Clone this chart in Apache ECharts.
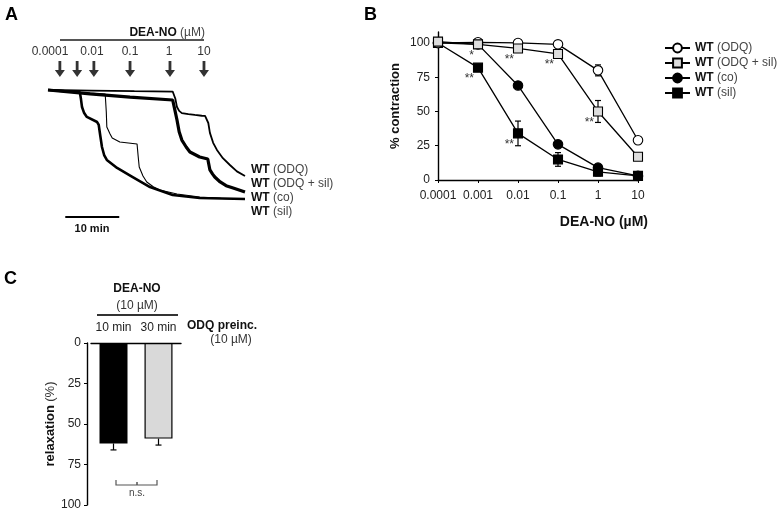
<!DOCTYPE html>
<html><head><meta charset="utf-8">
<script src="https://cdn.jsdelivr.net/npm/echarts@6/dist/echarts.min.js"></script>
<style>html,body{margin:0;padding:0;background:#fff}#c{width:777px;height:514px}</style>
</head><body><div id="c"></div>
<script>
// ---------- Panel A: isometric tension traces [time (min), tension (% of initial)] ----------
const traceODQ = [[0,100],[8,99.5],[16,99],[23.1,98.6],[23.6,92],[23.9,84.5],[24.3,81],[24.8,79],[26,78],[27.2,77.3],[28.5,76.6],[29.1,76.4],[29.4,78],[29.7,70],[30.0,61],[30.6,52],[31.3,45.5],[32.4,38],[33.7,31.8],[35,26],[36.5,21.8]];
const traceODQsil = [[0,100],[7.8,96.4],[15.2,93.6],[23.1,90.9],[23.5,82],[23.9,72.7],[24.3,62],[24.8,54.5],[25.6,48.2],[26.3,43.6],[28.1,39.1],[29.6,37.3],[30.0,27.3],[30.5,23.5],[30.9,20.9],[31.9,16.4],[33,13],[34.3,10.9],[36.5,7.3]];
const traceCo = [[0,100],[5,98],[10.6,96.4],[10.8,80],[10.9,66.4],[11.5,60],[11.9,56.4],[13.3,52.7],[16.5,50.9],[16.7,40],[16.9,30],[17.6,21.8],[18.3,16.4],[19.5,12],[20.7,9.1],[23.9,5.5],[28.1,2.7],[32,1.5],[36.5,0.9]];
const traceSil = [[0,100],[5.9,98],[6.1,92],[6.3,84.5],[6.7,79],[7.2,75.5],[9.1,70.9],[9.4,68.2],[9.7,58],[10,48.2],[10.4,40.9],[10.9,36.4],[12.8,29.1],[15.7,20.9],[18.9,11.8],[23.1,4.5],[28.1,1.8],[36.5,0.9]];
const arrowTimes = [2.2, 5.4, 8.5, 15.2, 22.6, 28.9];
const concLabelsA = ['0.0001', '0.01', '0.1', '1', '10'];
const traceNames = ['WT (ODQ)', 'WT (ODQ + sil)', 'WT (co)', 'WT (sil)'];
const scaleBarMin = [3.2, 13.2];

// ---------- Panel B: concentration–response ----------
const concB = [0.0001, 0.001, 0.01, 0.1, 1, 10];
const tickLabelsB = ['0.0001', '0.001', '0.01', '0.1', '1', '10'];
const valODQ = [100, 100.5, 100, 99, 80, 29];
const valODQsil = [101, 99, 96, 92, 50, 17];
const valCo = [100, 99, 69, 26, 9, 3];
const valSil = [100, 82, 34, 15, 6, 3];
const errODQ = [0, 0, 0, 0, 4, 2];
const errODQsil = [0, 0, 0, 0, 8, 2];
const errCo = [0, 0, 0, 2, 2, 0];
const errSil = [0, 2, 9, 5, 3, 0];
const starsB = [[0.001, 99, '*'], [0.001, 82, '**'], [0.01, 96, '**'], [0.01, 34, '**'], [0.1, 92, '**'], [1, 50, '**']];

// ---------- Panel C: relaxation ----------
const barCats = ['10 min', '30 min'];
const barMean = [62, 59];
const barSEM = [4, 4];

const FONT = '"Liberation Sans", Arial, Helvetica, sans-serif';
const chart = echarts.init(document.getElementById('c'), null, {renderer: 'canvas'});

function errRender(params, api) {
  const x = api.value(0), lo = api.value(1), hi = api.value(2);
  const a = api.coord([x, hi]), b = api.coord([x, lo]);
  const w = 3;
  const st = {stroke: '#000', lineWidth: 1.2};
  return {type: 'group', children: [
    {type: 'line', shape: {x1: a[0], y1: a[1], x2: b[0], y2: b[1]}, style: st},
    {type: 'line', shape: {x1: a[0] - w, y1: a[1], x2: a[0] + w, y2: a[1]}, style: st},
    {type: 'line', shape: {x1: b[0] - w, y1: b[1], x2: b[0] + w, y2: b[1]}, style: st}
  ]};
}
function errData(vals, errs) {
  const out = [];
  vals.forEach((v, i) => { if (errs[i] > 0) out.push([concB[i], v - errs[i], v + errs[i]]); });
  return out;
}
function starRender(params, api) {
  const p = api.coord([api.value(0), api.value(1)]);
  return {type: 'text', x: p[0] - 4, y: p[1] + 11,
    style: {text: starsB[params.dataIndex][2], align: 'right', verticalAlign: 'middle', font: '12px ' + FONT, fill: '#333'}};
}
function barErrRender(params, api) {
  const x = api.value(0), v = api.value(1), e = api.value(2);
  const a = api.coord([x, v]), b = api.coord([x, v + e]);
  const st = {stroke: '#000', lineWidth: 1.2};
  return {type: 'group', children: [
    {type: 'line', shape: {x1: a[0], y1: a[1], x2: b[0], y2: b[1]}, style: st},
    {type: 'line', shape: {x1: b[0] - 3, y1: b[1], x2: b[0] + 3, y2: b[1]}, style: st}
  ]};
}

const axisBlack = {lineStyle: {color: '#000', width: 1.4}};
const lineB = (name, vals, symbol, fill, z) => ({
  name: name, type: 'line', xAxisIndex: 1, yAxisIndex: 1,
  data: vals.map((v, i) => [concB[i], v]),
  symbol: symbol, symbolSize: symbol === 'rect' ? 9 : 9.5,
  lineStyle: {color: '#000', width: 1.3},
  itemStyle: {color: fill, borderColor: '#000', borderWidth: 1.1},
  z: z, animation: false
});

const traceSeries = (data, w) => ({
  type: 'line', xAxisIndex: 0, yAxisIndex: 0, data: data, showSymbol: false, symbol: 'none',
  lineStyle: {color: '#000', width: w}, animation: false, silent: true
});

const option = {
  animation: false,
  textStyle: {fontFamily: FONT},
  grid: [
    {left: 48, top: 57, width: 197, height: 170.5},
    {left: 438, top: 32, width: 200, height: 148},
    {left: 91, top: 343, width: 90, height: 162}
  ],
  xAxis: [
    {gridIndex: 0, type: 'value', min: 0, max: 36.5, show: false},
    {gridIndex: 1, type: 'log', logBase: 10, min: 0.0001, max: 10,
      axisLine: axisBlack, axisTick: {show: true, length: 3, lineStyle: {color: '#000'}},
      splitLine: {show: false},
      axisLabel: {fontSize: 12, color: '#222', margin: 10, formatter: v => tickLabelsB[Math.round(Math.log10(v)) + 4]}},
    {gridIndex: 2, type: 'category', data: barCats, position: 'top',
      axisLine: axisBlack, axisTick: {show: false},
      axisLabel: {fontSize: 12, color: '#222', margin: 9, interval: 0, hideOverlap: false}}
  ],
  yAxis: [
    {gridIndex: 0, type: 'value', min: -25, max: 130, show: false},
    {gridIndex: 1, type: 'value', min: 0, max: 108, interval: 25,
      axisLine: {show: true, lineStyle: {color: '#000', width: 1.4}},
      axisTick: {show: true, length: 3, lineStyle: {color: '#000'}, customValues: [0, 25, 50, 75, 100]},
      splitLine: {show: false},
      axisLabel: {fontSize: 12, color: '#222', margin: 8, customValues: [0, 25, 50, 75, 100]},
      name: '% contraction', nameLocation: 'middle', nameGap: 36, nameRotate: 90,
      nameTextStyle: {fontSize: 13, fontWeight: 'bold', color: '#111'}},
    {gridIndex: 2, type: 'value', min: 0, max: 100, interval: 25, inverse: true, offset: 4,
      axisLine: {show: true, lineStyle: {color: '#000', width: 1.4}},
      axisTick: {show: true, length: 3, lineStyle: {color: '#000'}},
      splitLine: {show: false},
      axisLabel: {fontSize: 12, color: '#222', margin: 6},
      name: '{b|relaxation} {n|(%)}', nameLocation: 'middle', nameGap: 30, nameRotate: 90,
      nameTextStyle: {rich: {b: {fontSize: 13, fontWeight: 'bold', color: '#111'}, n: {fontSize: 13, color: '#333'}}}}
  ],
  legend: {
    orient: 'vertical', left: 659, top: 37, itemWidth: 25, itemHeight: 11, itemGap: 3,
    data: ['WT (ODQ)', 'WT (ODQ + sil)', 'WT (co)', 'WT (sil)'],
    formatter: n => '{b|' + n.split(' ')[0] + '} {n|' + n.slice(n.indexOf(' ') + 1) + '}',
    textStyle: {rich: {b: {fontSize: 12, fontWeight: 'bold', color: '#111'}, n: {fontSize: 12, color: '#444'}}}
  },
  series: [
    traceSeries(traceSil, 2.6),
    traceSeries(traceCo, 1.1),
    traceSeries(traceODQsil, 3.2),
    traceSeries(traceODQ, 1.8),
    {type: 'line', xAxisIndex: 0, yAxisIndex: 0, data: scaleBarMin.map(t => [t, -15.5]), symbol: 'none',
      lineStyle: {color: '#000', width: 2}, silent: true},
    {type: 'scatter', xAxisIndex: 0, yAxisIndex: 0, data: arrowTimes.map(t => [t, 119]),
      symbol: 'path://M3.6,0 H6.4 V9 H10 L5,16 L0,9 H3.6 Z', symbolSize: [10, 16],
      itemStyle: {color: '#000'}, silent: true},
    // panel B error bars
    {type: 'custom', xAxisIndex: 1, yAxisIndex: 1, renderItem: errRender, z: 1,
      data: [].concat(errData(valODQ, errODQ), errData(valODQsil, errODQsil), errData(valCo, errCo), errData(valSil, errSil))},
    lineB('WT (co)', valCo, 'circle', '#000', 3),
    lineB('WT (sil)', valSil, 'rect', '#000', 4),
    lineB('WT (ODQ)', valODQ, 'circle', '#fff', 5),
    lineB('WT (ODQ + sil)', valODQsil, 'rect', '#ddd', 6),
    {type: 'custom', xAxisIndex: 1, yAxisIndex: 1, renderItem: starRender, z: 7,
      data: starsB.map(s => [s[0], s[1]])},
    // panel C
    {type: 'bar', xAxisIndex: 2, yAxisIndex: 2, barWidth: 28,
      data: barMean.map((v, i) => ({value: v, itemStyle: i === 0 ? {color: '#000'} : {color: '#d9d9d9', borderColor: '#000', borderWidth: 1.2}}))},
    {type: 'custom', xAxisIndex: 2, yAxisIndex: 2, renderItem: barErrRender, z: 3,
      data: barMean.map((v, i) => [i, v, barSEM[i]])}
  ],
  graphic: [
    {type: 'text', left: 5, top: 6, style: {text: 'A', font: 'bold 18px ' + FONT, fill: '#000'}},
    {type: 'text', left: 364, top: 6, style: {text: 'B', font: 'bold 18px ' + FONT, fill: '#000'}},
    {type: 'text', left: 4, top: 270, style: {text: 'C', font: 'bold 18px ' + FONT, fill: '#000'}},
    // panel A header
    {type: 'text', x: 205, y: 33, style: {text: '{b|DEA-NO} {n|(µM)}', align: 'right', verticalAlign: 'middle',
      rich: {b: {font: 'bold 12px ' + FONT, fill: '#111'}, n: {font: '12px ' + FONT, fill: '#444'}}}},
    {type: 'line', shape: {x1: 60, y1: 40, x2: 204, y2: 40}, style: {stroke: '#555', lineWidth: 2}},
    {type: 'text', x: 50, y: 52, style: {text: concLabelsA[0], align: 'center', verticalAlign: 'middle', font: '12px ' + FONT, fill: '#333'}},
    {type: 'text', x: 92, y: 52, style: {text: concLabelsA[1], align: 'center', verticalAlign: 'middle', font: '12px ' + FONT, fill: '#333'}},
    {type: 'text', x: 130, y: 52, style: {text: concLabelsA[2], align: 'center', verticalAlign: 'middle', font: '12px ' + FONT, fill: '#333'}},
    {type: 'text', x: 169, y: 52, style: {text: concLabelsA[3], align: 'center', verticalAlign: 'middle', font: '12px ' + FONT, fill: '#333'}},
    {type: 'text', x: 204, y: 52, style: {text: concLabelsA[4], align: 'center', verticalAlign: 'middle', font: '12px ' + FONT, fill: '#333'}},
    ...traceNames.map((n, i) => ({type: 'text', x: 251, y: [170, 184, 198, 212][i],
      style: {text: '{b|WT} {n|' + n.slice(3) + '}', verticalAlign: 'middle',
        rich: {b: {font: 'bold 12px ' + FONT, fill: '#111'}, n: {font: '12px ' + FONT, fill: '#444'}}}})),
    {type: 'text', x: 92, y: 229, style: {text: '10 min', align: 'center', verticalAlign: 'middle', font: 'bold 11px ' + FONT, fill: '#111'}},
    // panel B x title
    {type: 'text', x: 648, y: 222, style: {text: 'DEA-NO (µM)', align: 'right', verticalAlign: 'middle', font: 'bold 14px ' + FONT, fill: '#111'}},
    // panel C header
    {type: 'text', x: 137, y: 289, style: {text: 'DEA-NO', align: 'center', verticalAlign: 'middle', font: 'bold 12px ' + FONT, fill: '#111'}},
    {type: 'text', x: 137, y: 306, style: {text: '(10 µM)', align: 'center', verticalAlign: 'middle', font: '12px ' + FONT, fill: '#333'}},
    {type: 'line', shape: {x1: 97, y1: 315, x2: 178, y2: 315}, style: {stroke: '#333', lineWidth: 2}},
    {type: 'text', x: 187, y: 326, style: {text: 'ODQ preinc.', verticalAlign: 'middle', font: 'bold 12px ' + FONT, fill: '#111'}},
    {type: 'text', x: 231, y: 340, style: {text: '(10 µM)', align: 'center', verticalAlign: 'middle', font: '12px ' + FONT, fill: '#333'}},
    {type: 'polyline', shape: {points: [[116, 480], [116, 485], [157, 485], [157, 480]]}, style: {stroke: '#555', lineWidth: 1.2, fill: null}},
    {type: 'line', shape: {x1: 137, y1: 482, x2: 137, y2: 485}, style: {stroke: '#555', lineWidth: 1.5}},
    {type: 'text', x: 137, y: 493, style: {text: 'n.s.', align: 'center', verticalAlign: 'middle', font: '10px ' + FONT, fill: '#444'}}
  ]
};
chart.setOption(option);
</script></body></html>
